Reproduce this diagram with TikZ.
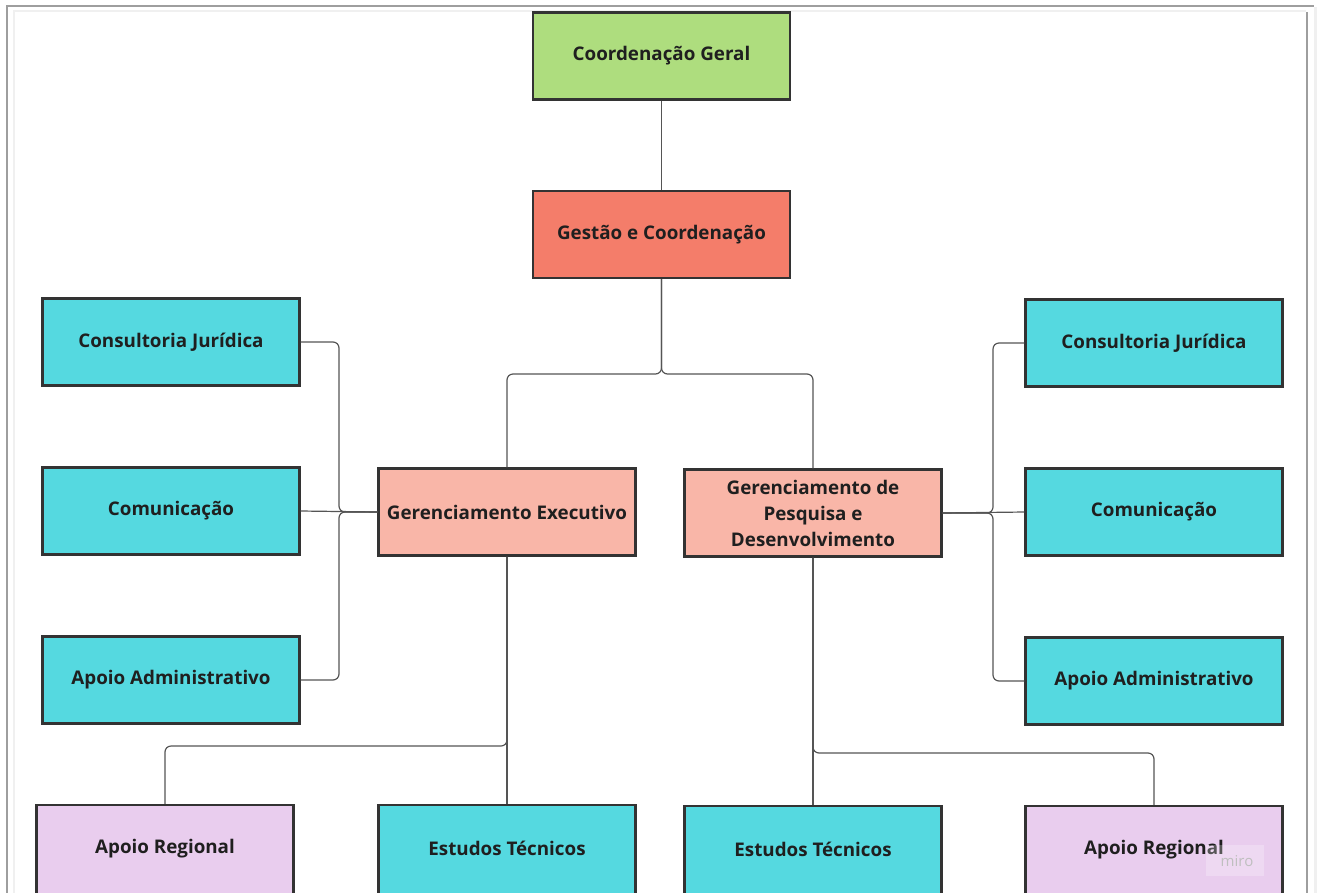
\documentclass[tikz,border=0pt]{standalone}
\usepackage{fontspec}
\setmainfont{Open Sans}
\usetikzlibrary{positioning}
\definecolor{cgreen}{HTML}{AEDD7E}
\definecolor{cred}{HTML}{F47D6A}
\definecolor{csalmon}{HTML}{F9B6A8}
\definecolor{ccyan}{HTML}{55D9E0}
\definecolor{clav}{HTML}{E9CDEE}
\definecolor{cborder}{HTML}{333333}
\definecolor{cline}{HTML}{555555}
\tikzset{
  boxfont/.style={font=\fontsize{18.8}{26}\selectfont\bfseries, text=black!88},
  box/.style={draw=cborder, line width=2.2pt, minimum width=257pt, minimum height=87pt,
    inner sep=0pt, align=center, boxfont},
  lowbox/.style={box, minimum height=98pt},
  lowtext/.style={label={[boxfont, yshift=5.5pt]center:#1}},
  conn/.style={draw=cline, line width=1.2pt, rounded corners=6pt},
}
\begin{document}
\begin{tikzpicture}[x=1pt,y=-1pt]
\useasboundingbox (0,0) rectangle (1317,892);
\clip (0,0) rectangle (1317,892);
\fill[white] (0,0) rectangle (1317,892);
% frame
\draw[color=black!38, line width=2pt] (7,900) -- (7,6) -- (1314,6);
\draw[color=black!6, line width=2pt] (14,900) -- (14,11) -- (1306,11);
\draw[color=black!38, line width=2pt] (1307,12) -- (1307,900);
\draw[color=black!6, line width=3pt] (1315,7) -- (1315,900);
% nodes
\node[box, fill=cgreen] (cg) at (661.5,56) {Coordenação Geral};
\node[box, fill=cred] (gc) at (661.5,234.5) {Gestão e Coordenação};
\node[box, fill=ccyan] (cjl) at (171,342) {Consultoria Jurídica};
\node[box, fill=ccyan] (coml) at (171,511) {Comunicação};
\node[box, fill=ccyan] (aal) at (171,680) {Apoio Administrativo};
\node[box, fill=csalmon] (ge) at (507,512) {Gerenciamento Executivo};
\node[box, fill=csalmon] (gpd) at (813,513) {Gerenciamento de\\Pesquisa e\\Desenvolvimento};
\node[box, fill=ccyan] (cjr) at (1154,343) {Consultoria Jurídica};
\node[box, fill=ccyan] (comr) at (1154,512) {Comunicação};
\node[box, fill=ccyan] (aar) at (1154,681) {Apoio Administrativo};
\node[lowbox, fill=clav, lowtext=Apoio Regional] (arl) at (165,854) {};
\node[lowbox, fill=ccyan, lowtext=Estudos Técnicos] (etl) at (507,854) {};
\node[lowbox, fill=ccyan, lowtext=Estudos Técnicos] (etr) at (813,855) {};
\node[lowbox, fill=clav, lowtext=Apoio Regional] (arr) at (1154,855) {};
% connectors
\draw[conn] (cg.south) -- (gc.north);
\draw[conn] (gc.south) -- (661.5,374) -| (ge.north);
\draw[conn] (gc.south) -- (661.5,374) -| (gpd.north);
\draw[conn] (cjl.east) -- (339,342) |- (ge.west);
\draw[conn] (coml.east) -- (ge.west);
\draw[conn] (aal.east) -- (339,680) |- (ge.west);
\draw[conn] (gpd.east) -- (993,513) |- (cjr.west);
\draw[conn] (gpd.east) -- (comr.west);
\draw[conn] (gpd.east) -- (993,513) |- (aar.west);
\draw[conn] (ge.south) -- (etl.north);
\draw[conn] (ge.south) -- (507,746) -| (arl.north);
\draw[conn] (gpd.south) -- (etr.north);
\draw[conn] (gpd.south) -- (813,753) -| (arr.north);
% watermark
\fill[white, opacity=0.25] (1206,845) rectangle (1264,876);
\node[text=black!25, font=\fontsize{15}{15}\selectfont] (miro) at (1237,861) {miro};
\end{tikzpicture}
\end{document}
